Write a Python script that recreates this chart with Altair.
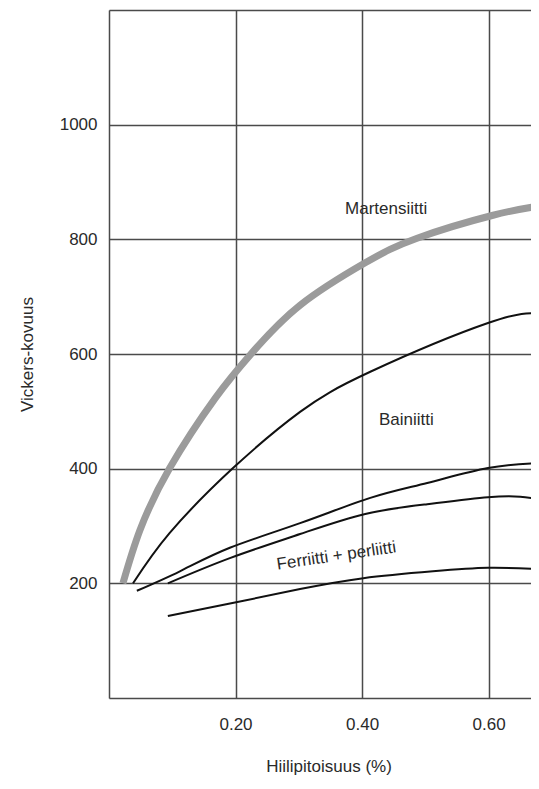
import altair as alt
import pandas as pd

# Axis ticks
x_ticks = [0, 0.2, 0.4, 0.6]
y_ticks = [0, 200, 400, 600, 800, 1000, 1200]

# Martensiitti (thick grey curve)
mart_x = [0.022, 0.049, 0.096, 0.168, 0.226, 0.302, 0.405, 0.487, 0.607, 0.680]
mart_y = [200, 293, 401, 523, 602, 685, 759, 802, 842, 858]

# Bainiitti upper boundary
bu_x = [0.038, 0.096, 0.196, 0.302, 0.413, 0.599, 0.680]
bu_y = [200, 288, 401, 499, 569, 654, 671]

# Bainiitti lower boundary (upper of the two middle curves)
bl_x = [0.044, 0.112, 0.191, 0.302, 0.413, 0.503, 0.599, 0.680]
bl_y = [187, 221, 262, 305, 349, 375, 401, 410]

# Ferriitti + perliitti upper curve
fu_x = [0.093, 0.191, 0.302, 0.405, 0.503, 0.599, 0.650, 0.680]
fu_y = [200, 244, 286, 321, 338, 350, 351, 347]

# Ferriitti + perliitti lower curve
fl_x = [0.093, 0.201, 0.302, 0.402, 0.512, 0.599, 0.680]
fl_y = [143, 167, 190, 209, 221, 227, 225]

# Annotation labels (data coordinates)
lab_text = ["Martensiitti", "Bainiitti"]
lab_x = [0.438, 0.470]
lab_y = [844, 476]
rot_text = ["Ferriitti + perliitti"]
rot_x = [0.3605]
rot_y = [239]

mart = pd.DataFrame({"x": mart_x, "y": mart_y})
black = pd.concat([
    pd.DataFrame({"x": bu_x, "y": bu_y, "s": "bu"}),
    pd.DataFrame({"x": bl_x, "y": bl_y, "s": "bl"}),
    pd.DataFrame({"x": fu_x, "y": fu_y, "s": "fu"}),
    pd.DataFrame({"x": fl_x, "y": fl_y, "s": "fl"}),
])
labs = pd.DataFrame({"x": lab_x, "y": lab_y, "t": lab_text})
rots = pd.DataFrame({"x": rot_x, "y": rot_y, "t": rot_text})

FONT = "Liberation Sans"
TXT = "#2a2a2a"

x_enc = alt.X(
    "x:Q",
    scale=alt.Scale(domain=[0, 0.667], nice=False, zero=False),
    axis=alt.Axis(
        values=x_ticks,
        labelExpr="datum.value == 0 ? '' : format(datum.value, '.2f')",
        title="Hiilipitoisuus (%)",
        grid=True, ticks=False, domain=False,
        labelPadding=18, labelFontSize=17, labelColor=TXT, labelFont=FONT,
        titleFontSize=17, titleFontWeight="normal", titleColor=TXT, titleFont=FONT,
        titleX=219.5, titleY=73, titleBaseline="alphabetic",
        gridColor="#4a4a4a", gridWidth=1.5, gridOpacity=1,
    ),
)
y_enc = alt.Y(
    "y:Q",
    scale=alt.Scale(domain=[0, 1200], nice=False, zero=False),
    axis=alt.Axis(
        values=y_ticks,
        labelExpr="(datum.value == 0 || datum.value == 1200) ? '' : format(datum.value, 'd')",
        title="Vickers-kovuus",
        grid=True, ticks=False, domain=False,
        labelPadding=12, labelFontSize=17, labelColor=TXT, labelFont=FONT,
        titleFontSize=17, titleFontWeight="normal", titleColor=TXT, titleFont=FONT,
        titleX=-77, titleBaseline="alphabetic",
        gridColor="#4a4a4a", gridWidth=1.5, gridOpacity=1,
    ),
)

mart_layer = alt.Chart(mart).mark_line(
    color="#9b9b9b", strokeWidth=7, interpolate="natural", strokeCap="butt", clip=True
).encode(x=x_enc, y=y_enc)

black_layer = alt.Chart(black).mark_line(
    color="#111111", strokeWidth=2, interpolate="natural", clip=True
).encode(x=x_enc, y=y_enc, detail="s:N")

lab_layer = alt.Chart(labs).mark_text(
    font=FONT, fontSize=17, color=TXT, align="center", baseline="alphabetic"
).encode(x=x_enc, y=y_enc, text="t:N")

rot_layer = alt.Chart(rots).mark_text(
    font=FONT, fontSize=17, color=TXT, align="center", baseline="alphabetic", angle=351.7
).encode(x=x_enc, y=y_enc, text="t:N")

chart = alt.layer(black_layer, mart_layer, lab_layer, rot_layer).properties(
    width=422,
    height=688,
    autosize=alt.AutoSizeParams(type="none"),
    padding={"left": 101, "top": 2, "right": 0, "bottom": 79},
).configure_view(strokeWidth=0).configure(background="white")

chart.save("out.html", embed_options={"renderer": "svg", "actions": False})
